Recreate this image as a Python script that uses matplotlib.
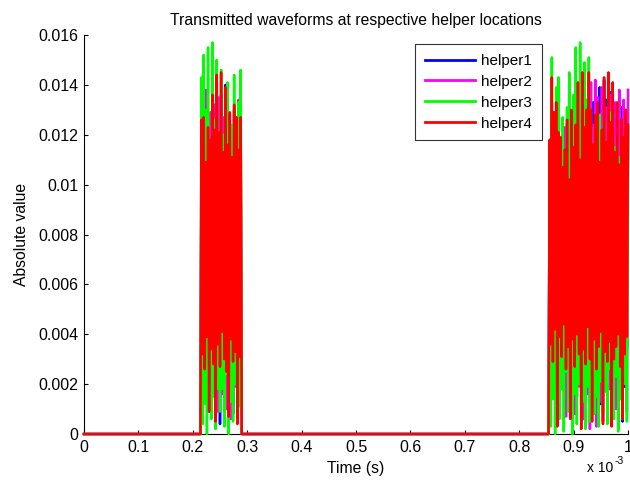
import numpy as np
import matplotlib
matplotlib.use("Agg")
import matplotlib.pyplot as plt

plt.rcParams['font.family'] = ['Liberation Sans', 'DejaVu Sans']

# sample grid of the two bursts (seconds)
step = 2e-6
burst1_start = 0.216e-3
burst2_start = 0.856e-3
t_end = 1.0e-3

labels = ['helper1', 'helper2', 'helper3', 'helper4']
colors = ['#0000ff', '#ff00ff', '#00ff00', '#ff0000']

# absolute values, in units of 1e-3
helper1_b1 = [11.0, 2.5, 12.2, 1.6, 10.5, 3.4, 11.8, 0.9, 12.5, 4.0, 10.9, 2.2, 13.1, 1.4, 14.5, 3.1, 12.0, 0.4, 13.6,
              2.7, 11.3, 1.9, 14.0, 3.6, 10.6, 1.1, 12.8, 2.9, 11.5, 0.8, 13.0, 3.3, 10.2, 2.0, 12.1, 1.5, 11.7]
helper2_b1 = [14.1, 1.8, 12.0, 3.0, 13.8, 1.2, 11.4, 2.6, 12.9, 0.7, 11.8, 3.5, 13.2, 2.1, 12.4, 0.9, 13.5, 2.8, 11.1,
              1.6, 12.7, 3.9, 10.8, 1.0, 13.0, 2.3, 12.2, 0.6, 11.6, 3.2, 12.8, 1.9, 10.9, 2.7, 13.4, 1.3, 12.0]
helper3_b1 = [14.3, 0.4, 15.2, 1.2, 13.0, 0.0, 15.5, 2.1, 11.4, 0.6, 15.7, 1.5, 12.6, 0.2, 15.0, 1.8, 9.5, 0.9, 14.6,
              1.8, 12.0, 0.3, 13.7, 2.4, 14.1, 0.0, 10.8, 1.3, 12.4, 0.5, 14.4, 2.0, 9.9, 0.7, 13.3, 1.1, 14.6]
helper4_b1 = [12.6, 3.2, 12.7, 2.6, 10.9, 3.9, 12.3, 0.9, 11.8, 3.4, 13.6, 2.8, 12.2, 0.5, 14.4, 3.6, 12.1, 2.7, 14.5,
              4.1, 11.3, 3.0, 13.9, 2.5, 11.6, 0.7, 12.9, 3.8, 11.1, 2.9, 13.2, 3.3, 12.7, 0.4, 11.4, 3.1, 12.7]

helper1_b2 = [10.9, 2.4, 11.8, 3.2, 10.6, 1.7, 12.1, 2.8, 11.3, 3.6,
              10.8, 1.9, 11.6, 2.7, 12.2, 3.4, 10.5, 1.3, 11.9, 2.9,
              11.1, 3.8, 12.4, 2.0, 10.7, 1.5, 11.8, 3.3, 12.0, 2.6,
              11.4, 1.8, 12.3, 3.0, 11.2, 2.1, 12.6, 3.5, 12.9, 1.6,
              13.3, 2.4, 12.5, 1.5, 13.0, 2.9, 13.9, 1.2, 12.7, 3.1,
              14.2, 2.2, 13.4, 0.9, 12.8, 2.6, 13.7, 1.4, 12.4, 3.0,
              13.0, 1.7, 11.9, 2.3, 12.6, 3.3, 13.1, 0.5, 12.2, 1.9,
              11.8, 3.4, 12.3]
helper2_b2 = [11.0, 2.9, 12.4, 1.5, 10.8, 3.3, 11.7, 0.9, 12.0, 2.6,
              10.5, 1.8, 11.9, 3.0, 12.3, 0.7, 10.9, 2.2, 11.6, 1.4,
              12.1, 3.4, 10.7, 0.8, 11.8, 2.5, 12.6, 1.9, 11.2, 3.1,
              12.0, 0.6, 11.4, 2.3, 12.9, 1.6, 13.2, 0.2, 14.1, 2.8,
              12.4, 1.1, 14.2, 0.3, 13.5, 2.0, 12.8, 1.3, 13.9, 0.5,
              12.6, 2.7, 13.1, 0.9, 12.2, 1.8, 13.6, 0.4, 12.9, 2.4,
              13.3, 1.0, 12.7, 0.2, 13.8, 1.5, 12.5, 0.6, 13.4, 2.1,
              12.8, 0.9, 13.8]
helper3_b2 = [10.5, 0.3, 15.1, 1.4, 12.0, 0.0, 13.9, 2.2, 14.3, 0.6,
              11.2, 1.8, 12.7, 0.1, 10.4, 2.5, 13.1, 0.9, 14.5, 1.1,
              12.2, 0.0, 13.6, 1.6, 15.5, 0.4, 11.8, 2.0, 15.7, 0.7,
              12.9, 1.3, 14.9, 0.2, 13.4, 1.9, 15.1, 0.5, 12.3, 2.4,
              11.0, 0.8, 12.1, 1.5, 10.6, 0.3, 12.8, 2.1, 11.4, 0.9,
              12.5, 1.7, 10.9, 0.4, 11.7, 2.6, 12.9, 1.2, 10.3, 0.6,
              11.5, 2.3, 12.0, 0.1, 11.1, 1.4, 12.4, 0.8, 10.7, 2.0,
              11.9, 0.5, 12.2]
helper4_b2 = [11.8, 3.6, 14.3, 2.9, 12.9, 4.2, 13.3, 0.3, 12.1, 3.9,
              11.9, 3.1, 10.7, 4.4, 11.4, 2.6, 12.6, 3.5, 10.2, 0.6,
              13.0, 3.8, 11.5, 2.7, 12.4, 4.0, 14.1, 3.2, 11.0, 0.2,
              14.5, 3.4, 12.3, 2.8, 13.0, 4.3, 14.5, 3.0, 13.0, 0.5,
              11.6, 3.8, 12.8, 2.6, 13.3, 3.5, 10.9, 4.1, 12.2, 0.4,
              14.3, 3.3, 11.7, 2.9, 14.5, 3.7, 12.5, 0.3, 14.1, 3.0,
              11.3, 3.5, 13.3, 4.0, 10.8, 2.7, 12.6, 0.6, 11.9, 3.2,
              13.0, 3.9, 12.4]

bursts1 = [helper1_b1, helper2_b1, helper3_b1, helper4_b1]
bursts2 = [helper1_b2, helper2_b2, helper3_b2, helper4_b2]

xticks = [0, 0.1e-3, 0.2e-3, 0.3e-3, 0.4e-3, 0.5e-3, 0.6e-3, 0.7e-3, 0.8e-3, 0.9e-3, 1.0e-3]
xticklabels = ['0', '0.1', '0.2', '0.3', '0.4', '0.5', '0.6', '0.7', '0.8', '0.9', '1']
yticks = [0, 0.002, 0.004, 0.006, 0.008, 0.01, 0.012, 0.014, 0.016]
yticklabels = ['0', '0.002', '0.004', '0.006', '0.008', '0.01', '0.012', '0.014', '0.016']


def build_trace(b1, b2):
    t1 = burst1_start + step * np.arange(len(b1))
    t2 = burst2_start + step * np.arange(len(b2))
    t = np.concatenate([[0.0, burst1_start - step], t1, [t1[-1] + step, burst2_start - step], t2])
    y = np.concatenate([[0.0, 0.0], np.array(b1) * 1e-3, [0.0, 0.0], np.array(b2) * 1e-3])
    return t, y


fig = plt.figure(figsize=(6.3, 4.82), dpi=100)
ax = fig.add_axes([84 / 630, 48 / 482, 544 / 630, 399 / 482])

for b1, b2, c, lab in zip(bursts1, bursts2, colors, labels):
    t, y = build_trace(b1, b2)
    ax.plot(t, y, color=c, lw=1.8, label=lab, clip_on=False, zorder=3)

ax.set_xlim(0, t_end)
ax.set_ylim(0, 0.016)
ax.set_xticks(xticks)
ax.set_xticklabels(xticklabels)
ax.set_yticks(yticks)
ax.set_yticklabels(yticklabels)
ax.tick_params(direction='in', length=3, width=0.8, labelsize=11.5, pad=4)
ax.spines['top'].set_visible(False)
ax.spines['right'].set_visible(False)

ax.set_xlabel('Time (s)', fontsize=11.3, labelpad=5)
ax.set_ylabel('Absolute value', fontsize=11.3, labelpad=7)
ax.set_title('Transmitted waveforms at respective helper locations', fontsize=11.3, pad=7)

# exponent note under the right end of the x axis
fig.text(587 / 630, 1 - 468 / 482, 'x 10', fontsize=10, va='center', ha='left')
fig.text(615 / 630, 1 - 461 / 482, '-3', fontsize=7.5, va='center', ha='left')

leg = ax.legend(loc='upper right', bbox_to_anchor=((542 - 84) / 544, (434 - 44) / 399), borderaxespad=0,
                fontsize=11, frameon=True, fancybox=False, handlelength=3.3, handletextpad=0.4,
                labelspacing=0.45, borderpad=0.65)
leg.get_frame().set_edgecolor('black')
leg.get_frame().set_linewidth(0.8)
for h in leg.get_lines():
    h.set_linewidth(2)

fig.savefig('out.png', dpi=100)
